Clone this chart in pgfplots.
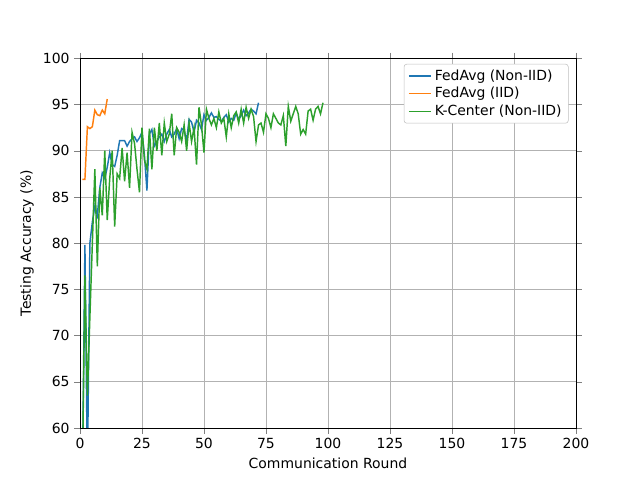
\documentclass[border=0pt]{standalone}
\usepackage{pgfplots}
\pgfplotsset{compat=1.18}
\usepackage{fontspec}
\setmainfont{DejaVu Sans}
\definecolor{c1}{HTML}{1F77B4}
\definecolor{c2}{HTML}{FF7F0E}
\definecolor{c3}{HTML}{2CA02C}
\begin{document}
\begin{tikzpicture}
\path (0,0) rectangle (6.667in,5in);
\begin{axis}[at={(0.833in,0.542in)},anchor=south west,
width=5.167in,height=3.85in,scale only axis,
xmin=0,xmax=200,ymin=60,ymax=100,
xtick={0,25,...,200},ytick={60,65,...,100},
grid=major,grid style={gray!60},
tick align=outside,
font=\fontsize{10.5}{12.5}\selectfont,
/pgf/number format/assume math mode=true,
xlabel={Communication Round},ylabel={Testing Accuracy (\%)},
legend style={at={(0.985,0.985)},anchor=north east,font=\fontsize{10.5}{12.5}\selectfont,draw=gray!50,rounded corners=2pt},
legend cell align=left]
\addplot[c1,line width=1.1pt] coordinates {(1,55)(2,79.8)(3,55)(4,80)(5,82.3)(6,84)(7,83)(8,86)(9,87.6)(10,87)(11,88.2)(12,89.8)(13,88.5)(14,88.3)(15,89.5)(16,91.1)(17,91.1)(18,91.1)(19,90.5)(20,91)(21,91.3)(22,91.5)(23,91)(24,91.4)(25,92)(26,89.5)(27,85.7)(28,91.8)(29,92.3)(30,90.5)(31,91)(32,91.5)(33,91.8)(34,91)(35,91.8)(36,92.3)(37,91.5)(38,91.8)(39,92.4)(40,91.3)(41,92.4)(42,92.2)(43,91.1)(44,93.4)(45,93.1)(46,92)(47,93.3)(48,93)(49,92.3)(50,93.9)(51,93.3)(52,93.6)(53,94.1)(54,93.6)(55,93.7)(56,93.4)(57,93.2)(58,93.6)(59,93.9)(60,93.1)(61,93.5)(62,93.3)(63,94.1)(64,93.4)(65,93.8)(66,94.4)(67,93.8)(68,94.1)(69,94.5)(70,94.3)(71,94.0)(72,95.2)};
\addplot[c2,line width=1.1pt] coordinates {(1,86.9)(2,86.9)(3,92.6)(4,92.4)(5,92.6)(6,94.4)(7,93.9)(8,93.8)(9,94.4)(10,94.0)(11,95.6)};
\addplot[c3,line width=1.1pt] coordinates {(1,55)(2,76.5)(3,63.5)(4,72)(5,80)(6,88)(7,77.5)(8,86)(9,83)(10,90)(11,82.5)(12,87)(13,90)(14,81.8)(15,87.5)(16,87)(17,90.3)(18,86.7)(19,89.8)(20,86)(21,92)(22,90.8)(23,88)(24,85.5)(25,92.5)(26,89)(27,88)(28,92.4)(29,88)(30,92.5)(31,90)(32,93)(33,89.5)(34,93)(35,91)(36,91.8)(37,94)(38,89.5)(39,92.5)(40,92)(41,91)(42,92.8)(43,90)(44,93)(45,91)(46,92.5)(47,88.5)(48,94.7)(49,92.8)(50,89.8)(51,94.5)(52,93.5)(53,92.8)(54,93.5)(55,92.5)(56,94.2)(57,93)(58,93.5)(59,91.5)(60,94)(61,92.5)(62,93.8)(63,94.2)(64,93)(65,94.5)(66,93)(67,94.7)(68,93.5)(69,94.5)(70,93.7)(71,91)(72,92.8)(73,93)(74,92)(75,94)(76,93.5)(77,92.5)(78,94)(79,93.5)(80,93)(81,92.8)(82,93.8)(83,90.5)(84,94.8)(85,93.2)(86,94)(87,94.8)(88,94)(89,91.8)(90,92.3)(91,91.8)(92,94.3)(93,94.5)(94,93.3)(95,94.5)(96,94.8)(97,94)(98,95.2)};
\legend{FedAvg (Non-IID),FedAvg (IID),K-Center (Non-IID)}
\end{axis}
\end{tikzpicture}
\end{document}
